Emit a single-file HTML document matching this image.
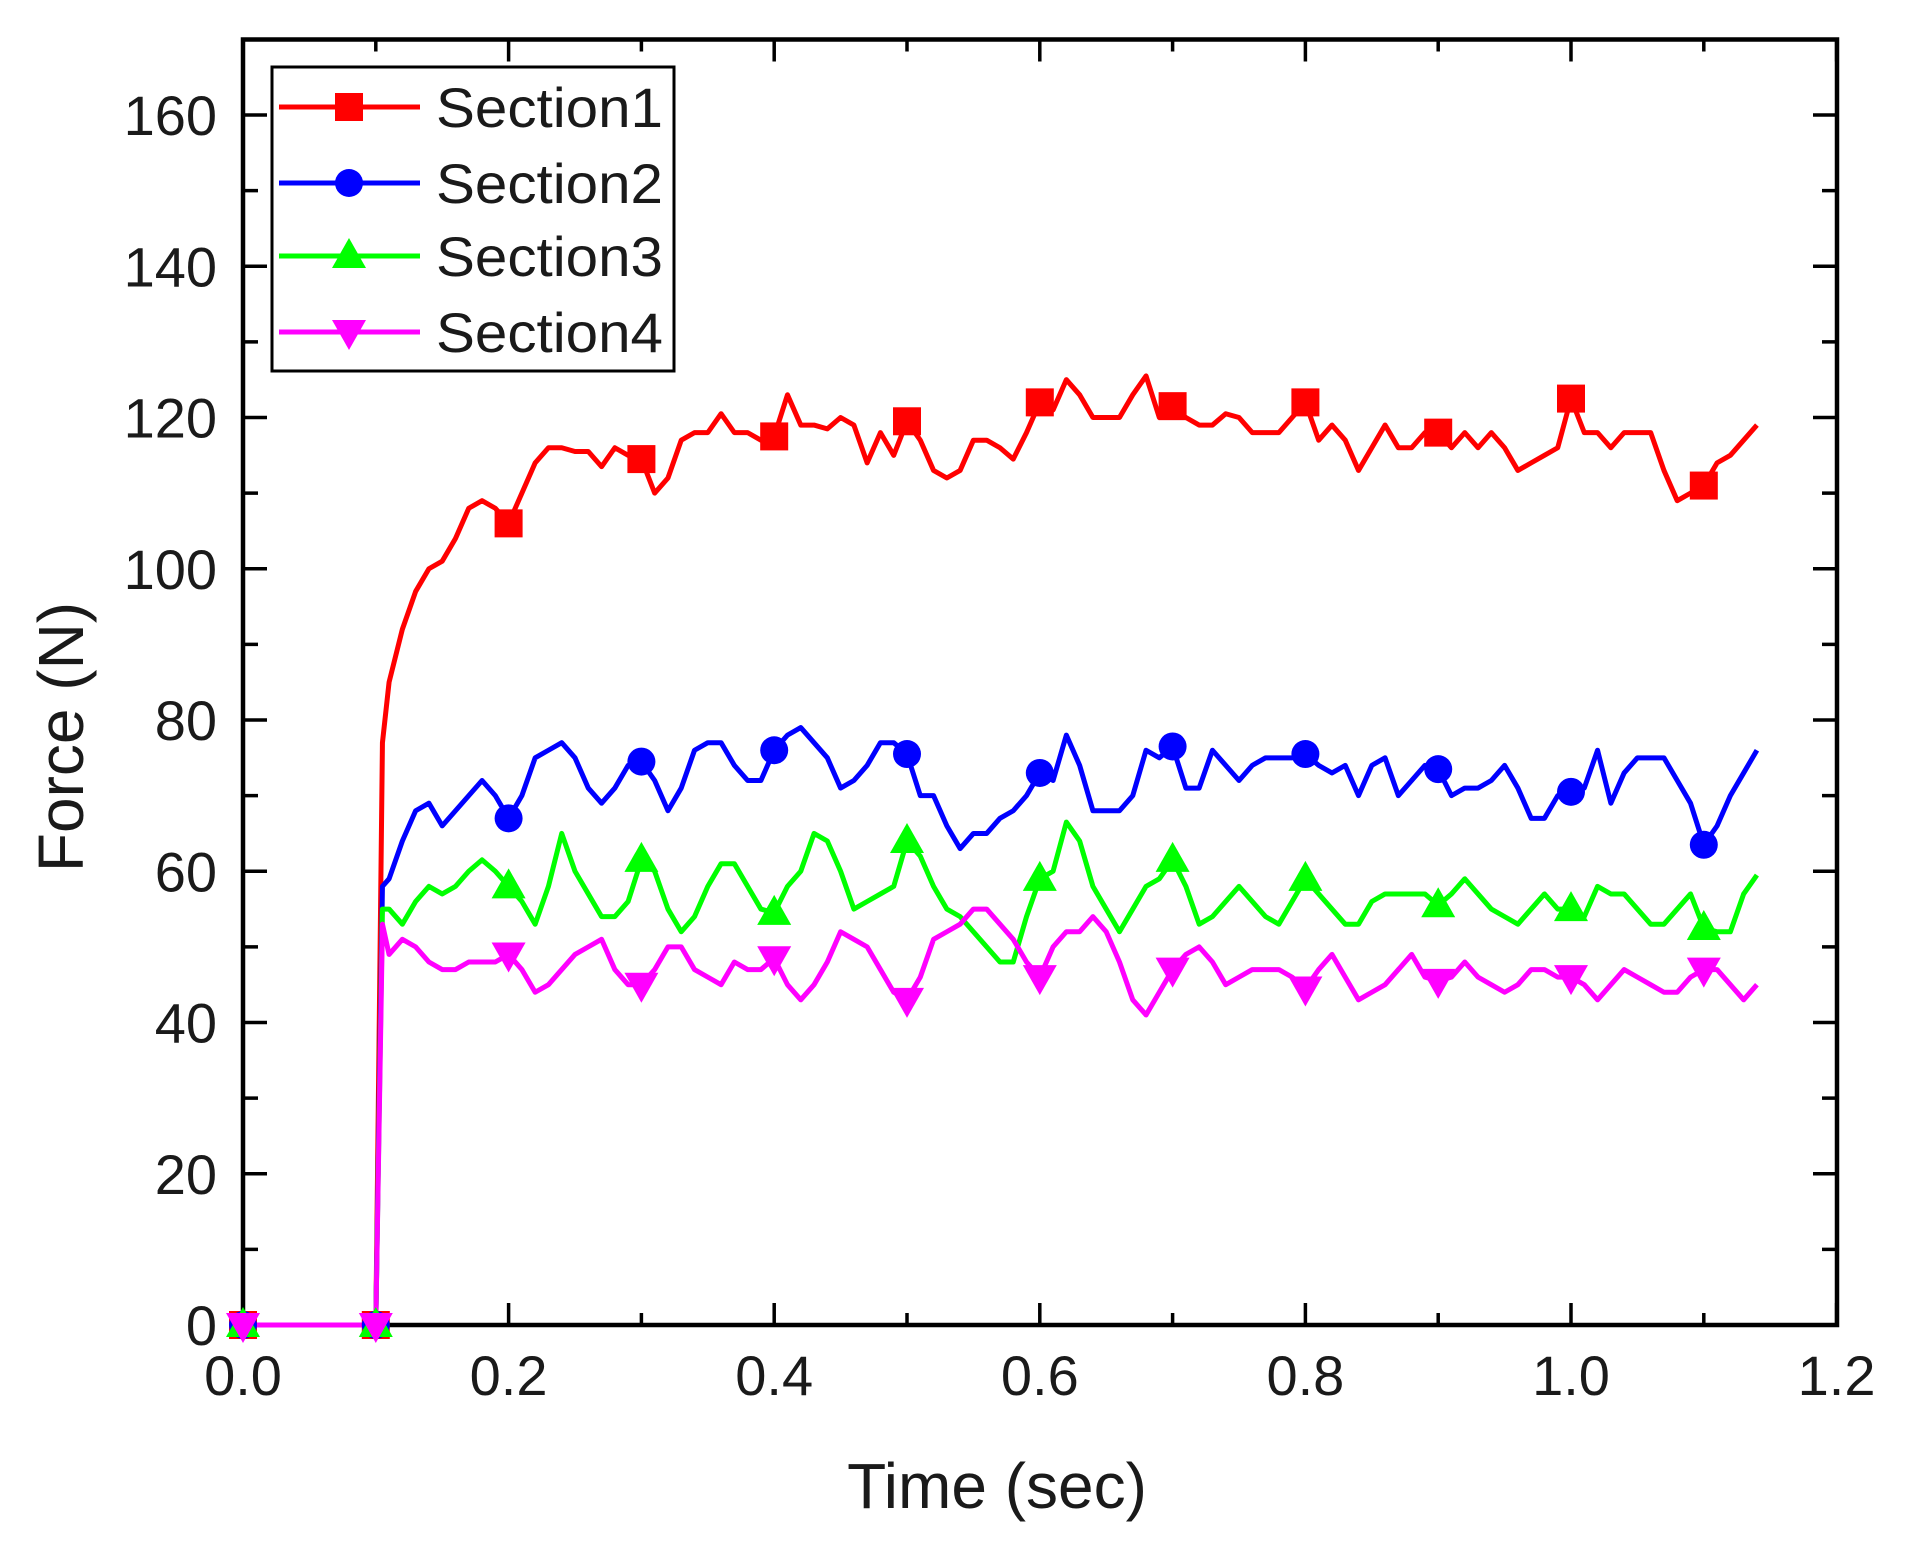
<!DOCTYPE html>
<html><head><meta charset="utf-8"><style>
html,body{margin:0;padding:0;background:#fff}
svg{display:block}
text{font-family:"Liberation Sans",Arial,sans-serif;fill:#1a1a1a}
</style></head><body>
<svg id="s" width="1912" height="1545" viewBox="0 0 1912 1545" xmlns="http://www.w3.org/2000/svg"></svg>
<script>
const X0=243,XS=1328,Y0=1325,YS=7.5625;
const X=t=>X0+t*XS, Y=v=>Y0-v*YS;
const T=[0.105,0.11,0.12,0.13,0.14,0.15,0.16,0.17,0.18,0.19,0.2,0.21,0.22,0.23,0.24,0.25,0.26,0.27,0.28,0.29,0.3,0.31,0.32,0.33,0.34,0.35,0.36,0.37,0.38,0.39,0.4,0.41,0.42,0.43,0.44,0.45,0.46,0.47,0.48,0.49,0.5,0.51,0.52,0.53,0.54,0.55,0.56,0.57,0.58,0.59,0.6,0.61,0.62,0.63,0.64,0.65,0.66,0.67,0.68,0.69,0.7,0.71,0.72,0.73,0.74,0.75,0.76,0.77,0.78,0.79,0.8,0.81,0.82,0.83,0.84,0.85,0.86,0.87,0.88,0.89,0.9,0.91,0.92,0.93,0.94,0.95,0.96,0.97,0.98,0.99,1.0,1.01,1.02,1.03,1.04,1.05,1.06,1.07,1.08,1.09,1.1,1.11,1.12,1.13,1.14];
const D={
red:[77,85,92,97,100,101,104,108,109,108,106,110,114,116,116,115.5,115.5,113.5,116,115,114.5,110,112,117,118,118,120.5,118,118,117,117.5,123,119,119,118.5,120,119,114,118,115,119.5,117,113,112,113,117,117,116,114.5,118,122,121,125,123,120,120,120,123,125.5,120,121.5,120,119,119,120.5,120,118,118,118,120,122,117,119,117,113,116,119,116,116,118,118,116,118,116,118,116,113,114,115,116,122.5,118,118,116,118,118,118,113,109,110,111,114,115,117,119],
blue:[58,59,64,68,69,66,68,70,72,70,67,70,75,76,77,75,71,69,71,74,74.5,72,68,71,76,77,77,74,72,72,76,78,79,77,75,71,72,74,77,77,75.5,70,70,66,63,65,65,67,68,70,73,72,78,74,68,68,68,70,76,75,76.5,71,71,76,74,72,74,75,75,75,75.5,74,73,74,70,74,75,70,72,74,73.5,70,71,71,72,74,71,67,67,70,70.5,71,76,69,73,75,75,75,72,69,63.5,66,70,73,76],
lime:[55,55,53,56,58,57,58,60,61.5,60,58,56,53,58,65,60,57,54,54,56,61.5,60,55,52,54,58,61,61,58,55,54.5,58,60,65,64,60,55,56,57,58,64,62,58,55,54,52,50,48,48,54,59,60,66.5,64,58,55,52,55,58,59,61.5,58,53,54,56,58,56,54,53,56,59,57,55,53,53,56,57,57,57,57,55.5,57,59,57,55,54,53,55,57,55,55,54,58,57,57,55,53,53,55,57,52.5,52,52,57,59.5],
magenta:[53,49,51,50,48,47,47,48,48,48,49,47,44,45,47,49,50,51,47,45,45,47,50,50,47,46,45,48,47,47,48.5,45,43,45,48,52,51,50,47,44,43,46,51,52,53,55,55,53,51,48,46,50,52,52,54,52,48,43,41,44,47,49,50,48,45,46,47,47,47,46,44.5,47,49,46,43,44,45,47,49,46,45.5,46,48,46,45,44,45,47,47,46,46,45,43,45,47,46,45,44,44,46,47,47,45,43,45]};
const C={red:'#ff0000',blue:'#0000ff',lime:'#00ff00',magenta:'#ff00ff'};
const MK={red:'sq',blue:'ci',lime:'tu',magenta:'td'};
function marker(k,x,y){const c=C[k];
 if(MK[k]=='sq')return `<rect x="${x-14}" y="${y-14}" width="28" height="28" fill="${c}"/>`;
 if(MK[k]=='ci')return `<circle cx="${x}" cy="${y}" r="14" fill="${c}"/>`;
 if(MK[k]=='tu')return `<polygon points="${x},${y-18} ${x+17},${y+12} ${x-17},${y+12}" fill="${c}"/>`;
 return `<polygon points="${x-17},${y-12} ${x+17},${y-12} ${x},${y+18}" fill="${c}"/>`;}
let s='';
s+=`<rect x="${X0}" y="39.5" width="${1837-X0}" height="${Y0-39.5}" fill="none" stroke="#000" stroke-width="4.5"/>`;
for(let v=0;v<=170;v+=10){const y=Y(v),L=v%20==0?24:15;
 s+=`<line x1="${X0}" x2="${X0+L}" y1="${y}" y2="${y}" stroke="#000" stroke-width="3.5"/><line x1="1837" x2="${1837-L}" y1="${y}" y2="${y}" stroke="#000" stroke-width="3.5"/>`;
 if(v%20==0&&v<=160)s+=`<text x="217" y="${y+20}" font-size="56" text-anchor="end">${v}</text>`;}
for(let i=0;i<=12;i++){const x=X(i/10),L=i%2==0?22:12;
 s+=`<line x1="${x}" x2="${x}" y1="${Y0}" y2="${Y0-L}" stroke="#000" stroke-width="3.5"/><line x1="${x}" x2="${x}" y1="39.5" y2="${39.5+L}" stroke="#000" stroke-width="3.5"/>`;
 if(i%2==0)s+=`<text x="${x}" y="1395" font-size="56" text-anchor="middle">${(i/10).toFixed(1)}</text>`;}
s+=`<text x="997" y="1508" font-size="64" text-anchor="middle" fill="#111">Time (sec)</text>`;
s+=`<text transform="translate(83,737) rotate(-90)" font-size="64" text-anchor="middle" fill="#111">Force (N)</text>`;
const order=['red','blue','lime','magenta'];
for(const k of order){
 let p=`${X(0)},${Y(0)} ${X(0.1)},${Y(0)}`;
 T.forEach((t,i)=>p+=` ${X(t)},${Y(D[k][i])}`);
 s+=`<polyline points="${p}" fill="none" stroke="${C[k]}" stroke-width="5" stroke-linejoin="round"/>`;}
for(const k of order){
 s+=marker(k,X(0),Y(0))+marker(k,X(0.1),Y(0));
 for(let i=2;i<=11;i++){const t=i/10;const j=T.findIndex(a=>Math.abs(a-t)<1e-6);s+=marker(k,X(t),Y(D[k][j]));}}
s+=`<rect x="272" y="67" width="402" height="304" fill="#fff" stroke="#000" stroke-width="3"/>`;
const ry=[107,183,256,332],names=['Section1','Section2','Section3','Section4'];
order.forEach((k,i)=>{s+=`<line x1="279" x2="420" y1="${ry[i]}" y2="${ry[i]}" stroke="${C[k]}" stroke-width="5"/>`+marker(k,349,ry[i])+
 `<text x="436" y="${ry[i]+20}" font-size="56" textLength="227" lengthAdjust="spacingAndGlyphs" fill="#111">${names[i]}</text>`;});
document.getElementById('s').innerHTML=s;
</script>
</body></html>
